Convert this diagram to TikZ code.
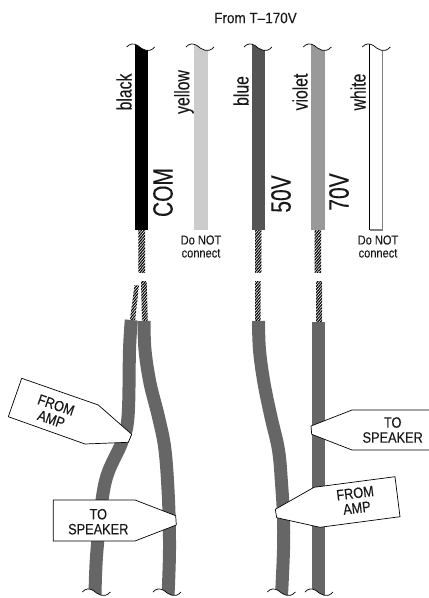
\documentclass[tikz,border=0pt]{standalone}
\usepackage{fontspec}
\setmainfont[FakeStretch=0.85,FakeBold=0.15]{Liberation Sans}
\newfontfamily\narrowfont[FakeStretch=0.75,FakeBold=0.15]{Liberation Sans}
\newfontfamily\sourcefont[FakeStretch=0.9,FakeBold=0.15]{Liberation Sans}
\usetikzlibrary{patterns.meta}
\definecolor{yellowwire}{gray}{0.80}
\definecolor{bluewire}{gray}{0.33}
\definecolor{violetwire}{gray}{0.60}
\definecolor{sheath}{gray}{0.40}
\tikzset{
    strand/.style={pattern={Lines[angle=50,distance=2pt,line width=1.15pt]}, pattern color=black},
    sheathline/.style={draw=sheath, line width=13pt},
    tagbox/.style={draw, fill=white, line width=0.7pt, line join=round},
    taglabel/.style={font=\fontsize{15}{15}\selectfont, align=center, inner sep=0pt, text=black!90},
    smalllabel/.style={font=\fontsize{13}{13}\selectfont, align=center, inner sep=0pt, text=black!90},
    colorlabel/.style={font=\narrowfont\fontsize{21}{21}\selectfont, rotate=90, inner sep=0pt, text=black!90},
    voltlabel/.style={font=\narrowfont\fontsize{28}{28}\selectfont, rotate=90, inner sep=0pt, text=black!90},
    wavy/.pic={
        \fill[white] (0,0) .. controls (3,-3.5) and (7,-4) .. (11,-1.5) .. controls (15,2) and (22,7) .. (28,0) -- (28,#1) -- (0,#1) -- cycle;
        \draw[line width=0.7pt] (0,0) .. controls (3,-3.5) and (7,-4) .. (11,-1.5) .. controls (15,2) and (22,7) .. (28,0);
    }
}
\begin{document}
\begin{tikzpicture}[x=1pt, y=-1pt]
        \useasboundingbox (0,0) rectangle (429,598);

        % upper wires
        \fill[black] (135,40) rectangle (148.3,230);
        \fill[yellowwire] (194,40) rectangle (207.7,230);
        \fill[bluewire] (251.7,40) rectangle (265.3,230);
        \fill[violetwire] (311,40) rectangle (324.5,230);
        \draw[gray, line width=1.3pt] (382.5,40) -- (382.5,230) -- (369.5,230);
        \draw[black, line width=0.8pt] (369.5,40) -- (369.5,230);

        % bare strands
        \path[strand] (138.3,230) rectangle (145,272);
        \path[strand] (255,230) rectangle (261.3,272);
        \path[strand] (314.5,230) rectangle (321,272);
        \path[strand] (134.5,285) -- (139,285.5) -- (135,321) -- (130,320) -- cycle;
        \path[strand] (141,281) -- (146.7,281) -- (147.7,321) -- (142,321) -- cycle;
        \path[strand] (255,281) rectangle (260.7,321);
        \path[strand] (316,281) rectangle (322,322);

        % sheathed wires
        \draw[sheathline] plot[smooth, tension=0.6] coordinates {(131.3,320) (129.5,350) (128,417) (121.5,443) (105,483) (97,550) (95,596)};
        \draw[sheathline] plot[smooth, tension=0.6] coordinates {(144,321) (145,350) (150,383) (158.5,417) (165,450) (168.5,500) (169.5,550) (168,596)};
        \draw[sheathline] plot[smooth, tension=0.6] coordinates {(258.5,321) (259.5,350) (264,383) (271,417) (278.5,450) (281.5,483) (283.5,517) (283.5,550) (281.5,596)};
        \draw[sheathline] (318.5,322) -- (318.5,596);

        % cut ends
        \pic at (126.7,47) {wavy=-8};
        \pic at (186,47) {wavy=-8};
        \pic at (244,47) {wavy=-8};
        \pic at (303.3,47) {wavy=-8};
        \pic at (362.3,47) {wavy=-8};
        \pic at (82.3,592) {wavy=8};
        \pic at (153,592) {wavy=8};
        \pic at (267.3,592) {wavy=8};
        \pic at (305,592) {wavy=8};

        % tags
        \draw[tagbox] (21.7,378.3) -- (98.3,405) -- (131.7,434.3) -- (128.3,442.3) -- (85,444) -- (8.3,416.7) -- cycle;
        \draw[tagbox] (53.3,500) -- (135,500) -- (175.7,515.7) -- (176.3,525) -- (135,541) -- (53.3,541) -- cycle;
        \draw[tagbox] (430,410) -- (352,410) -- (311,426) -- (311.7,434.3) -- (352,450) -- (430,450);
        \draw[tagbox] (395,476.7) -- (400,516.7) -- (320,527.3) -- (276.7,517.7) -- (275.3,509.3) -- (314,487.3) -- cycle;

        % labels
        \node(source) [inner sep=0pt, text=black!90, font=\sourcefont\fontsize{15}{15}\selectfont] at (255.5,18) {From T–170V};
        \node(black) [colorlabel] at (124,92) {black};
        \node(yellow) [colorlabel] at (184,92) {yellow};
        \node(blue) [colorlabel] at (241,91) {blue};
        \node(violet) [colorlabel] at (300,92) {violet};
        \node(white) [colorlabel] at (358,92) {white};
        \node(com) [voltlabel] at (163,192.5) {COM};
        \node(fifty) [voltlabel] at (281,194) {50V};
        \node(seventy) [voltlabel] at (339,192) {70V};
        \node(yellownote) [smalllabel] at (201,246.5) {Do NOT\\connect};
        \node(whitenote) [smalllabel] at (378,246.5) {Do NOT\\connect};
        \node(fromampa) [taglabel, rotate=-19] at (53.7,412) {FROM\\AMP};
        \node(tospeakera) [taglabel] at (98.3,521.7) {TO\\SPEAKER};
        \node(tospeakerb) [taglabel] at (392.7,430) {TO\\SPEAKER};
        \node(fromampb) [taglabel, rotate=7] at (356,500.5) {FROM\\AMP};

    \end{tikzpicture}
\end{document}
